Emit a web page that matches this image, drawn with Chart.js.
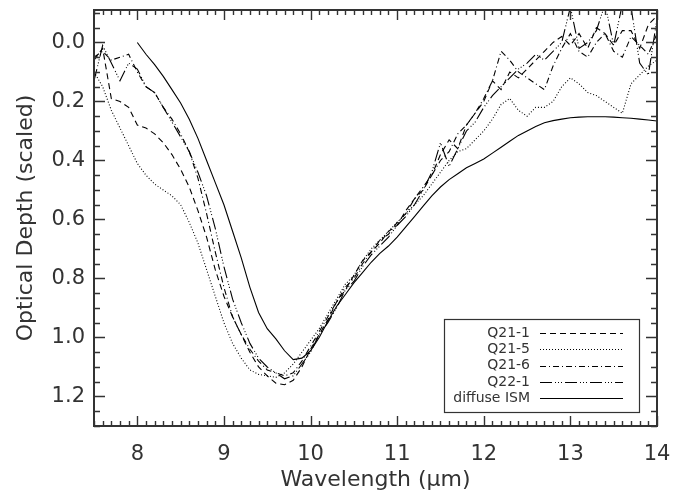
<!DOCTYPE html>
<html>
<head>
<meta charset="utf-8">
<script src="https://cdn.jsdelivr.net/npm/chart.js@4.4.0/dist/chart.umd.min.js"></script>
<style>
  html, body { margin: 0; padding: 0; background: #fff; }
</style>
</head>
<body>
<canvas id="chart" width="687" height="494"></canvas>
<script>
// Wavelength grid (micron)
const wavelength = [
    7.5, 7.6, 7.7, 7.8, 7.9, 8.0, 8.1, 8.2, 8.3, 8.4, 8.5, 8.6, 8.7, 8.8, 8.9,
    9.0, 9.1, 9.2, 9.3, 9.4, 9.5, 9.6, 9.7, 9.8, 9.9, 10.0, 10.1, 10.2, 10.3, 10.4,
    10.5, 10.6, 10.7, 10.8, 10.9, 11.0, 11.1, 11.2, 11.3, 11.4, 11.5, 11.6, 11.7, 11.8, 11.9,
    12.0, 12.1, 12.2, 12.3, 12.4, 12.5, 12.6, 12.7, 12.8, 12.9, 13.0, 13.1, 13.2, 13.3, 13.4,
    13.5, 13.6, 13.7, 13.8, 13.9, 14.0
];

// Optical depth per source
const q211 = [
    0.06, 0.02, 0.19, 0.20, 0.22, 0.28, 0.29, 0.31, 0.34, 0.38, 0.43, 0.49, 0.57, 0.66, 0.77,
    0.86, 0.93, 0.99, 1.05, 1.10, 1.13, 1.155, 1.16, 1.145, 1.10, 1.04, 0.99, 0.94, 0.88, 0.84,
    0.79, 0.74, 0.71, 0.68, 0.64, 0.62, 0.57, 0.53, 0.50, 0.45, 0.38, 0.33, 0.36, 0.28, 0.24,
    0.20, 0.13, 0.16, 0.10, 0.12, 0.09, 0.06, 0.03, 0.00, -0.02, 0.01, -0.03, 0.02, -0.05, -0.03,
    0.01, -0.04, -0.04, 0.02, -0.06, -0.09
];
const q215 = [
    0.10, 0.15, 0.23, 0.29, 0.35, 0.41, 0.45, 0.48, 0.50, 0.52, 0.55, 0.61, 0.68, 0.77, 0.86,
    0.95, 1.02, 1.07, 1.11, 1.125, 1.13, 1.135, 1.12, 1.09, 1.05, 1.01, 0.97, 0.92, 0.87, 0.82,
    0.79, 0.74, 0.70, 0.67, 0.64, 0.61, 0.58, 0.55, 0.52, 0.48, 0.44, 0.40, 0.37, 0.36, 0.33,
    0.30, 0.26, 0.21, 0.19, 0.23, 0.25, 0.22, 0.22, 0.20, 0.15, 0.12, 0.14, 0.17, 0.18, 0.20,
    0.22, 0.24, 0.14, 0.11, 0.08, 0.06
];
const q216 = [
    0.05, 0.03, 0.06, 0.05, 0.04, 0.10, 0.15, 0.17, 0.22, 0.26, 0.31, 0.37, 0.46, 0.58, 0.71,
    0.83, 0.93, 0.99, 1.04, 1.08, 1.11, 1.12, 1.13, 1.12, 1.08, 1.03, 0.98, 0.93, 0.88, 0.83,
    0.80, 0.75, 0.71, 0.67, 0.65, 0.61, 0.58, 0.53, 0.49, 0.45, 0.40, 0.37, 0.31, 0.28, 0.24,
    0.19, 0.13, 0.03, 0.06, 0.10, 0.12, 0.14, 0.16, 0.08, 0.02, -0.03, 0.03, 0.05, 0.00, -0.03,
    0.03, 0.05, -0.02, 0.01, 0.04, -0.03
];
const q221 = [
    0.13, 0.01, 0.07, 0.13, 0.07, 0.09, 0.15, 0.17, 0.22, 0.27, 0.32, 0.37, 0.44, 0.52, 0.63,
    0.76, 0.87, 0.95, 1.02, 1.07, 1.10, 1.12, 1.14, 1.13, 1.09, 1.05, 0.99, 0.95, 0.90, 0.84,
    0.81, 0.76, 0.72, 0.69, 0.66, 0.62, 0.59, 0.55, 0.50, 0.44, 0.34, 0.42, 0.36, 0.30, 0.27,
    0.22, 0.18, 0.15, 0.12, 0.09, 0.07, 0.04, 0.06, 0.03, 0.00, -0.12, 0.02, 0.00, -0.04, -0.13,
    0.01, -0.13, -0.12, 0.07, 0.11, -0.08
];
const ism = [
    null, null, null, null, null, 0.00, 0.04, 0.075, 0.115, 0.16, 0.205, 0.26, 0.325, 0.40, 0.475,
    0.55, 0.64, 0.73, 0.83, 0.915, 0.97, 1.005, 1.045, 1.075, 1.07, 1.045, 1.0, 0.945, 0.895, 0.855,
    0.815, 0.78, 0.745, 0.715, 0.69, 0.66, 0.625, 0.59, 0.555, 0.52, 0.49, 0.465, 0.445, 0.425, 0.41,
    0.395, 0.375, 0.355, 0.335, 0.315, 0.30, 0.285, 0.272, 0.265, 0.26, 0.255, 0.253, 0.252, 0.252, 0.252,
    0.253, 0.255, 0.257, 0.26, 0.263, 0.266
];

const seriesNames = ["Q21-1", "Q21-5", "Q21-6", "Q22-1", "diffuse ISM"];
const seriesDash = [[6, 4], [1, 2], [6, 3, 1, 3], [12, 3, 1, 2, 1, 2, 1, 3], []];
const xTicks = [8, 9, 10, 11, 12, 13, 14];
const yTicks = [0.0, 0.2, 0.4, 0.6, 0.8, 1.0, 1.2];

const TEXT = "#333";
const FONT = "DejaVu Sans";

function toPoints(ys) {
    return wavelength.map((x, i) => ({ x: x, y: ys[i] }));
}

const allSeries = [q211, q215, q216, q221, ism];

// Inward ticks on all four sides plus the frame
const frameTicks = {
    id: "frameTicks",
    afterDraw(chart) {
        const { ctx, chartArea: a, scales: { x, y } } = chart;
        ctx.save();
        ctx.strokeStyle = "#333";
        ctx.lineWidth = 1.4;
        ctx.beginPath();
        for (let i = 75; i <= 140; i++) {
            const px = Math.round(x.getPixelForValue(i / 10)) + 0.5;
            const len = i % 10 === 0 ? 10 : 5;
            ctx.moveTo(px, a.bottom); ctx.lineTo(px, a.bottom - len);
            ctx.moveTo(px, a.top); ctx.lineTo(px, a.top + len);
        }
        for (let i = -2; i <= 26; i++) {
            const v = i * 0.05;
            if (v < y.min || v > y.max) continue;
            const py = Math.round(y.getPixelForValue(v)) + 0.5;
            const len = i % 4 === 0 ? 11 : 6;
            ctx.moveTo(a.left, py); ctx.lineTo(a.left + len, py);
            ctx.moveTo(a.right, py); ctx.lineTo(a.right - len, py);
        }
        ctx.stroke();
        ctx.lineWidth = 2;
        ctx.strokeRect(a.left, a.top, a.right - a.left, a.bottom - a.top);
        ctx.restore();
    }
};

// Boxed legend, text right-aligned with line sample
const boxLegend = {
    id: "boxLegend",
    afterDraw(chart) {
        const { ctx, chartArea: a } = chart;
        const right = a.right - 18, bottom = a.bottom - 14;
        const w = 195, h = 93;
        const left = right - w, top = bottom - h;
        ctx.save();
        ctx.fillStyle = "#fff";
        ctx.fillRect(left, top, w, h);
        ctx.strokeStyle = "#333";
        ctx.lineWidth = 1.2;
        ctx.strokeRect(left + 0.5, top + 0.5, w, h);
        ctx.font = "14px " + FONT;
        ctx.textAlign = "right";
        ctx.textBaseline = "middle";
        chart.data.datasets.forEach((ds, i) => {
            const yy = top + 14 + i * 16.3;
            ctx.fillStyle = TEXT;
            ctx.fillText(ds.label, left + 86, yy);
            ctx.strokeStyle = "#000";
            ctx.lineWidth = 1.1;
            ctx.setLineDash(ds.borderDash);
            ctx.beginPath();
            ctx.moveTo(left + 96, Math.round(yy) + 0.5);
            ctx.lineTo(left + 179, Math.round(yy) + 0.5);
            ctx.stroke();
        });
        ctx.restore();
    }
};

new Chart(document.getElementById("chart"), {
    type: "line",
    data: {
        datasets: allSeries.map((s, i) => ({
            label: seriesNames[i],
            data: toPoints(s),
            borderColor: "#000",
            borderWidth: 1.1,
            borderDash: seriesDash[i],
            pointRadius: 0,
            tension: 0,
            fill: false
        }))
    },
    options: {
        responsive: false,
        animation: false,
        devicePixelRatio: 1,
        layout: { padding: { top: 10, right: 30, left: 0, bottom: 0 } },
        plugins: { legend: { display: false }, tooltip: { enabled: false } },
        scales: {
            x: {
                type: "linear",
                min: 7.5,
                max: 14,
                afterBuildTicks: s => { s.ticks = xTicks.map(v => ({ value: v })); },
                afterFit: s => { s.height = 68; s.paddingLeft = 0; s.paddingRight = 0; },
                grid: { display: false, drawTicks: false },
                border: { display: false },
                ticks: { font: { family: FONT, size: 21 }, color: TEXT, padding: 16, maxRotation: 0, autoSkip: false },
                title: { display: true, text: "Wavelength (\u03bcm)", font: { family: FONT, size: 22 }, color: TEXT, padding: { top: 0, bottom: 1 } }
            },
            y: {
                type: "linear",
                reverse: true,
                min: -0.11,
                max: 1.3,
                afterBuildTicks: s => { s.ticks = yTicks.map(v => ({ value: v })); },
                afterFit: s => { s.width = 94; s.paddingTop = 0; s.paddingBottom = 0; },
                grid: { display: false, drawTicks: false },
                border: { display: false },
                ticks: { font: { family: FONT, size: 21 }, color: TEXT, padding: 9, callback: v => v.toFixed(1) },
                title: { display: true, text: "Optical Depth (scaled)", font: { family: FONT, size: 22 }, color: TEXT, padding: { top: 13, bottom: 0 } }
            }
        }
    },
    plugins: [frameTicks, boxLegend]
});
</script>
</body>
</html>
